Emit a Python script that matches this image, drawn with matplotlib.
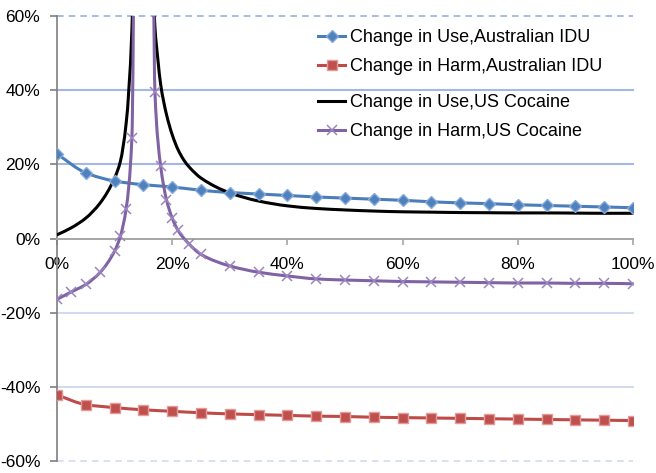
import numpy as np
import matplotlib
matplotlib.use("Agg")
import matplotlib.pyplot as plt
from matplotlib.lines import Line2D
from matplotlib.path import Path
from matplotlib.patches import PathPatch

# ---------------- data ----------------
X_STEP = [0, 5, 10, 15, 20, 25, 30, 35, 40, 45, 50, 55, 60, 65, 70, 75, 80, 85, 90, 95, 100]
USE_AUS = [22.8, 17.7, 15.5, 14.5, 13.9, 13.0, 12.4, 12.0, 11.6, 11.2, 10.9, 10.6, 10.3,
           9.9, 9.6, 9.4, 9.1, 8.9, 8.7, 8.5, 8.3]
HARM_AUS = [-42.2, -44.8, -45.6, -46.2, -46.6, -47.0, -47.3, -47.5, -47.7, -47.9, -48.0,
            -48.2, -48.3, -48.4, -48.5, -48.6, -48.7, -48.8, -48.9, -49.0, -49.1]

X_USE_US = [0, 2.5, 5, 7.5, 10, 11, 12, 13, 14, 15, 16, 17, 17.5, 18, 19, 20, 21, 22, 23, 25,
            30, 35, 40, 45, 50, 55, 60, 65, 70, 75, 80, 85, 90, 95, 100]
USE_US = [1.0, 2.9, 5.5, 9.6, 16.3, 20.8, 31.0, 56.0, 150.0, np.nan, 110.0, 57.0, 48.5,
          41.5, 33.5, 28.0, 24.0, 21.2, 19.2, 16.3,
          12.3, 10.1, 8.8, 8.1, 7.7, 7.4, 7.2, 7.1, 7.0, 6.95, 6.9, 6.9, 6.85, 6.8, 6.8]

X_HARM_US = [0, 2.5, 5, 7.5, 10, 11, 12, 13, 14, 15, 16, 17, 18, 19, 20, 21, 23, 25,
             30, 35, 40, 45, 50, 55, 60, 65, 70, 75, 80, 85, 90, 95, 100]
HARM_US = [-16.4, -14.4, -12.4, -9.1, -3.4, 0.6, 8.0, 27.1, 250.0, np.nan, 300.0, 39.6,
           19.5, 10.5, 5.5, 2.2, -1.6, -4.3,
           -7.4, -9.1, -10.1, -10.9, -11.2, -11.4, -11.6, -11.7, -11.8, -11.9, -12.0,
           -12.0, -12.1, -12.1, -12.2]

SERIES_NAMES = ["Change in Use,Australian IDU", "Change in Harm,Australian IDU",
                "Change in Use,US Cocaine", "Change in Harm,US Cocaine"]
X_TICKS = [0, 20, 40, 60, 80, 100]
X_TICK_LABELS = ["0%", "20%", "40%", "60%", "80%", "100%"]
Y_TICKS = [-60, -40, -20, 0, 20, 40, 60]
Y_TICK_LABELS = ["-60%", "-40%", "-20%", "0%", "20%", "40%", "60%"]


# ------------- smoothed (Excel-like) line rendering -------------
def smooth_path(xs, ys):
    """Monotone cubic Bezier path through the data points (breaks at NaN)."""
    xs = np.asarray(xs, float)
    ys = np.asarray(ys, float)
    verts, codes = [], []
    ok = np.isfinite(ys)
    i = 0
    n_all = len(xs)
    while i < n_all:
        if not ok[i]:
            i += 1
            continue
        j = i
        while j + 1 < n_all and ok[j + 1]:
            j += 1
        x = xs[i:j + 1]
        y = ys[i:j + 1]
        n = len(x)
        if n >= 2:
            h = np.diff(x)
            d = np.diff(y) / h
            m = np.zeros(n)
            m[0], m[-1] = d[0], d[-1]
            for k in range(1, n - 1):
                if d[k - 1] * d[k] <= 0:
                    m[k] = 0.0
                else:
                    w1 = 2 * h[k] + h[k - 1]
                    w2 = h[k] + 2 * h[k - 1]
                    m[k] = (w1 + w2) / (w1 / d[k - 1] + w2 / d[k])
            verts.append((x[0], y[0]))
            codes.append(Path.MOVETO)
            for k in range(n - 1):
                verts += [(x[k] + h[k] / 3, y[k] + m[k] * h[k] / 3),
                          (x[k + 1] - h[k] / 3, y[k + 1] - m[k + 1] * h[k] / 3),
                          (x[k + 1], y[k + 1])]
                codes += [Path.CURVE4] * 3
        i = j + 1
    return Path(verts, codes)


# ---------------- style ----------------
plt.rcParams["font.family"] = ["Liberation Sans", "DejaVu Sans"]

fig = plt.figure(figsize=(6.56, 4.73), dpi=100)
ax = fig.add_axes([57 / 656, 1 - 461 / 473, (633 - 57) / 656, (461 - 16) / 473])

BLUE, BLUE_M, BLUE_E = "#4a7ebb", "#4f81bd", "#86aadb"
RED, RED_M, RED_E = "#be4b48", "#c0504d", "#e39a98"
PURPLE, PURPLE_M = "#7f63a2", "#9c86c2"
LW = 2.2

series = [
    (X_STEP, USE_AUS, BLUE, dict(marker="D", markersize=6.5, markerfacecolor=BLUE_M,
                                 markeredgecolor=BLUE_E, markeredgewidth=1.0)),
    (X_STEP, HARM_AUS, RED, dict(marker="s", markersize=7, markerfacecolor=RED_M,
                                 markeredgecolor=RED_E, markeredgewidth=1.0)),
    (X_USE_US, USE_US, "black", None),
    (X_HARM_US, HARM_US, PURPLE, dict(marker="x", markersize=7.5,
                                      markeredgecolor=PURPLE_M, markeredgewidth=1.1)),
]

handles = []
for (xs, ys, col, mk), name in zip(series, SERIES_NAMES):
    ax.add_patch(PathPatch(smooth_path(xs, ys), fill=False, edgecolor=col, lw=LW,
                           capstyle="round", joinstyle="round", zorder=3))
    if mk is not None:
        ax.plot(xs, ys, linestyle="none", zorder=4, **mk)
        handles.append(Line2D([], [], color=col, lw=LW, label=name, **mk))
    else:
        handles.append(Line2D([], [], color=col, lw=LW, label=name))

ax.set_xlim(0, 100)
ax.set_ylim(-60, 60)
ax.set_xticks(X_TICKS)
ax.set_xticklabels(X_TICK_LABELS)
ax.set_yticks(Y_TICKS)
ax.set_yticklabels(Y_TICK_LABELS)

for s in ["top", "right"]:
    ax.spines[s].set_visible(False)
ax.spines["bottom"].set_position(("data", 0))
ax.spines["bottom"].set_color("#a6a6a6")
ax.spines["bottom"].set_linewidth(1.4)
ax.spines["left"].set_color("#7f7f7f")
ax.spines["left"].set_linewidth(1.2)

ax.tick_params(axis="x", direction="out", length=4, width=1.2, color="#a6a6a6",
               labelsize=12.5, pad=9, labelcolor="black")
ax.tick_params(axis="y", direction="out", length=5, width=1.2, color="#7f7f7f",
               labelsize=12.5, pad=7, labelcolor="black")

ax.grid(axis="y")
for val, gl in zip(Y_TICKS, ax.yaxis.get_gridlines()):
    gl.set_clip_on(False)
    if val == 0:
        gl.set_visible(False)
    elif val == 60:
        gl.set_color("#98b1df"); gl.set_linestyle((0, (4, 3))); gl.set_linewidth(1.2)
    elif val == -60:
        gl.set_color("#d3dcef"); gl.set_linestyle((0, (4, 3))); gl.set_linewidth(1.2)
    elif val > 0:
        gl.set_color("#a3b9e3"); gl.set_linestyle("-"); gl.set_linewidth(1.5)
    else:
        gl.set_color("#cdd8ee"); gl.set_linestyle("-"); gl.set_linewidth(1.3)
ax.set_axisbelow(True)

leg_kw = dict(frameon=False, fontsize=13, handlelength=1.5, handletextpad=0.3,
              labelspacing=0.68, borderpad=0, borderaxespad=0, numpoints=1,
              loc="upper left")
fig.legend(handles=handles[:2], bbox_transform=fig.transFigure,
           bbox_to_anchor=(318 / 656, 1 - 29 / 473), **leg_kw)
fig.legend(handles=handles[2:], bbox_transform=fig.transFigure,
           bbox_to_anchor=(318 / 656, 1 - 94 / 473), **leg_kw)

fig.savefig("out.png", dpi=100)
